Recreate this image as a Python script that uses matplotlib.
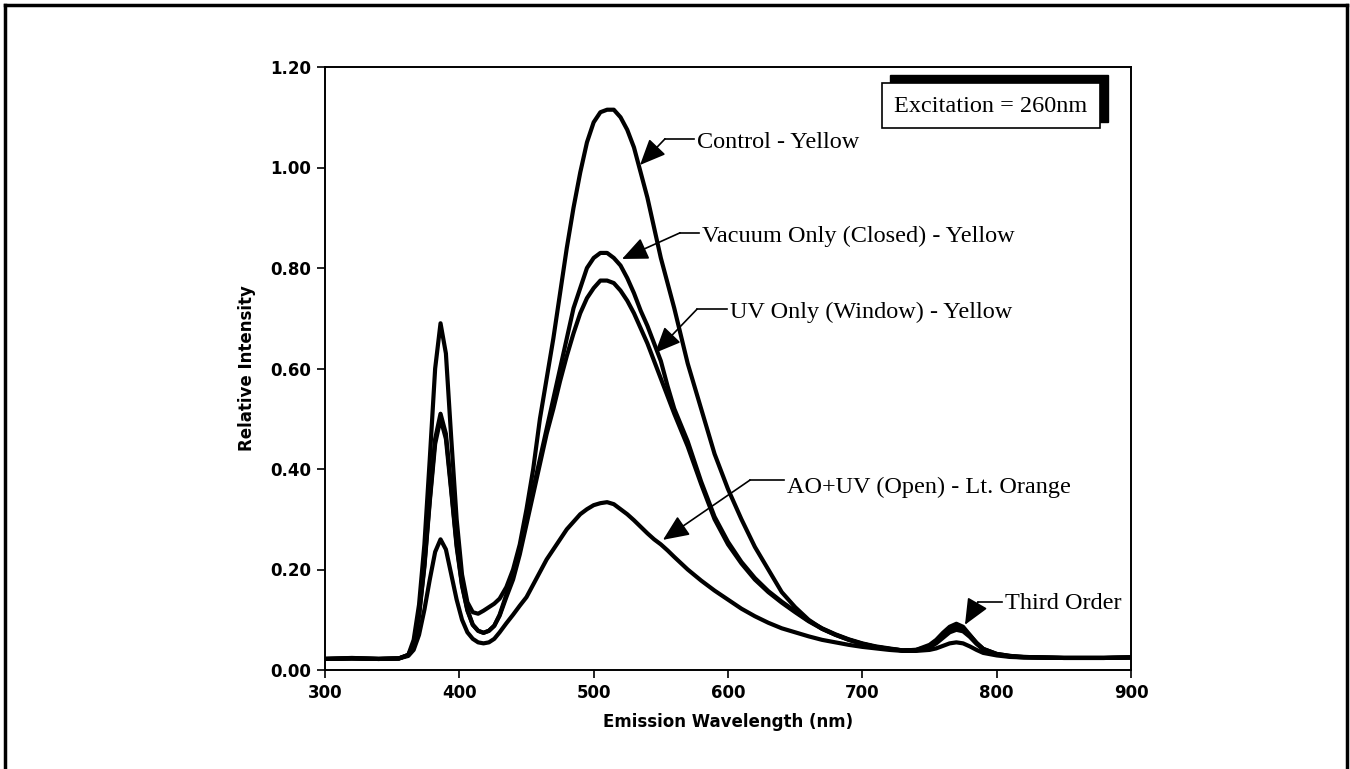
import matplotlib
matplotlib.use("Agg")
from matplotlib import pyplot as plt
from matplotlib.patches import Rectangle
from matplotlib.lines import Line2D

# emission wavelength grid (nm)
wavelength = [300, 320, 340, 355, 362, 366, 370, 374, 378, 382, 386, 390, 394, 398, 402,
              406, 410, 414, 418, 422, 426, 430, 435, 440, 445, 450, 455, 460, 465, 470,
              475, 480, 485, 490, 495, 500, 505, 510, 515, 520, 525, 530, 535, 540, 545,
              550, 555, 560, 570, 580, 590, 600, 610, 620, 630, 640, 650, 660, 670, 680,
              690, 700, 710, 720, 730, 740, 750, 755, 760, 765, 770, 775, 780, 785, 790,
              800, 810, 820, 850, 880, 900]

control = [0.022, 0.024, 0.022, 0.023, 0.030, 0.060, 0.130, 0.250, 0.420, 0.600, 0.690, 0.630, 0.460, 0.300, 0.190,
           0.135, 0.115, 0.112, 0.118, 0.125, 0.132, 0.142, 0.165, 0.200, 0.250, 0.320, 0.400, 0.500, 0.580, 0.660,
           0.750, 0.840, 0.920, 0.990, 1.050, 1.090, 1.110, 1.115, 1.115, 1.100, 1.075, 1.040, 0.990, 0.940, 0.880,
           0.820, 0.770, 0.720, 0.610, 0.520, 0.430, 0.360, 0.300, 0.245, 0.200, 0.155, 0.125, 0.100, 0.082, 0.070,
           0.060, 0.052, 0.046, 0.042, 0.039, 0.040, 0.050, 0.060, 0.074, 0.086, 0.092, 0.086, 0.070, 0.054, 0.042,
           0.032, 0.028, 0.026, 0.024, 0.024, 0.025]

vacuum = [0.022, 0.023, 0.022, 0.023, 0.030, 0.050, 0.110, 0.210, 0.340, 0.460, 0.510, 0.470, 0.360, 0.250, 0.170,
          0.120, 0.090, 0.078, 0.074, 0.078, 0.088, 0.110, 0.150, 0.190, 0.240, 0.300, 0.360, 0.420, 0.480, 0.540,
          0.600, 0.660, 0.720, 0.760, 0.800, 0.820, 0.830, 0.830, 0.820, 0.805, 0.780, 0.750, 0.715, 0.685, 0.650,
          0.615, 0.565, 0.520, 0.455, 0.375, 0.305, 0.255, 0.215, 0.183, 0.157, 0.136, 0.117, 0.098, 0.083, 0.071,
          0.061, 0.053, 0.047, 0.043, 0.039, 0.040, 0.047, 0.056, 0.069, 0.080, 0.086, 0.082, 0.069, 0.054, 0.042,
          0.032, 0.028, 0.026, 0.024, 0.024, 0.025]

uv_only = [0.022, 0.023, 0.022, 0.023, 0.030, 0.050, 0.108, 0.205, 0.335, 0.450, 0.500, 0.460, 0.355, 0.245, 0.168,
           0.118, 0.090, 0.078, 0.074, 0.078, 0.088, 0.108, 0.145, 0.180, 0.230, 0.290, 0.350, 0.410, 0.470, 0.520,
           0.575, 0.625, 0.670, 0.710, 0.740, 0.760, 0.775, 0.775, 0.770, 0.755, 0.735, 0.710, 0.680, 0.650, 0.615,
           0.580, 0.545, 0.510, 0.445, 0.370, 0.300, 0.250, 0.212, 0.180, 0.155, 0.134, 0.115, 0.097, 0.082, 0.070,
           0.060, 0.052, 0.046, 0.042, 0.039, 0.039, 0.045, 0.053, 0.064, 0.075, 0.080, 0.077, 0.066, 0.052, 0.041,
           0.031, 0.027, 0.025, 0.024, 0.024, 0.025]

ao_uv = [0.022, 0.023, 0.022, 0.023, 0.028, 0.040, 0.070, 0.120, 0.180, 0.235, 0.260, 0.240, 0.190, 0.140, 0.100,
         0.075, 0.062, 0.055, 0.053, 0.055, 0.062, 0.075, 0.093, 0.110, 0.128, 0.145, 0.170, 0.195, 0.220, 0.240,
         0.260, 0.280, 0.295, 0.310, 0.320, 0.328, 0.332, 0.334, 0.330, 0.320, 0.310, 0.298, 0.285, 0.272, 0.260,
         0.250, 0.238, 0.225, 0.200, 0.178, 0.158, 0.140, 0.122, 0.107, 0.094, 0.083, 0.075, 0.067, 0.060, 0.055,
         0.050, 0.046, 0.043, 0.040, 0.038, 0.038, 0.040, 0.043, 0.048, 0.053, 0.055, 0.053, 0.047, 0.040, 0.034,
         0.029, 0.026, 0.025, 0.024, 0.024, 0.025]

labels = ["Control - Yellow", "Vacuum Only (Closed) - Yellow", "UV Only (Window) - Yellow",
          "AO+UV (Open) - Lt. Orange", "Third Order"]
# (tip x, tip y), (elbow x, elbow y), text x, text y
label_tips = [(534.5, 1.005), (521.1, 0.818), (545.7, 0.631), (551.6, 0.259), (776.4, 0.090)]
label_elbows = [(553.1, 1.057), (564.3, 0.870), (576.9, 0.718), (616.4, 0.378), (786.1, 0.135)]
label_text = [(577.0, 1.050), (580.7, 0.863), (601.5, 0.712), (643.9, 0.364), (806.2, 0.133)]

W, H = 1350, 769
fig = plt.figure(figsize=(W / 100, H / 100), dpi=100)
ax = fig.add_axes([325 / W, 1 - 670 / H, (1131 - 325) / W, (670 - 67) / H])

for series in (ao_uv, uv_only, vacuum, control):
    ax.plot(wavelength, series, color="black", lw=3.0, solid_joinstyle="round")

ax.set_xlim(300, 900)
ax.set_ylim(0, 1.2)
ax.set_xticks([300, 400, 500, 600, 700, 800, 900])
ax.set_yticks([0, 0.2, 0.4, 0.6, 0.8, 1.0, 1.2])
ax.set_yticklabels(["0.00", "0.20", "0.40", "0.60", "0.80", "1.00", "1.20"])
ax.tick_params(direction="out", length=6, width=1.2, labelsize=12, pad=4)
for lab in ax.get_xticklabels() + ax.get_yticklabels():
    lab.set_fontweight("bold")
for sp in ax.spines.values():
    sp.set_linewidth(1.4)

ax.set_xlabel("Emission Wavelength (nm)", fontsize=12, fontweight="bold", labelpad=8)
ax.set_ylabel("Relative Intensity", fontsize=12, fontweight="bold", labelpad=10)

serif = "Liberation Serif"
for txt, tip, elb, pos in zip(labels, label_tips, label_elbows, label_text):
    ax.plot([elb[0], pos[0] - 2.5], [elb[1], elb[1]], color="black", lw=1.2)
    ax.annotate("", xy=tip, xytext=elb,
                arrowprops=dict(arrowstyle="-|>,head_length=0.8,head_width=0.35",
                                mutation_scale=20, lw=1.2, color="black",
                                shrinkA=0, shrinkB=0))
    ax.text(pos[0], pos[1], txt, fontsize=17.5, family=serif, va="center", ha="left")

# excitation box with drop shadow
fig.add_artist(Rectangle((890 / W, 1 - 122 / H), 218 / W, 47 / H, transform=fig.transFigure,
                         facecolor="black", edgecolor="black", zorder=5))
fig.add_artist(Rectangle((882 / W, 1 - 128 / H), 218 / W, 45 / H, transform=fig.transFigure,
                         facecolor="white", edgecolor="black", lw=1.2, zorder=6))
fig.text(991 / W, 1 - 106 / H, "Excitation = 260nm", fontsize=17.5, family=serif,
         ha="center", va="center", zorder=7)

# outer frame
for xs, ys in [([5, 5], [769, 5]), ([5, 1347], [5, 5]), ([1347, 1347], [5, 769])]:
    fig.add_artist(Line2D([x / W for x in xs], [1 - y / H for y in ys],
                          transform=fig.transFigure, color="black", lw=2.5))

fig.savefig("out.png", dpi=100)
